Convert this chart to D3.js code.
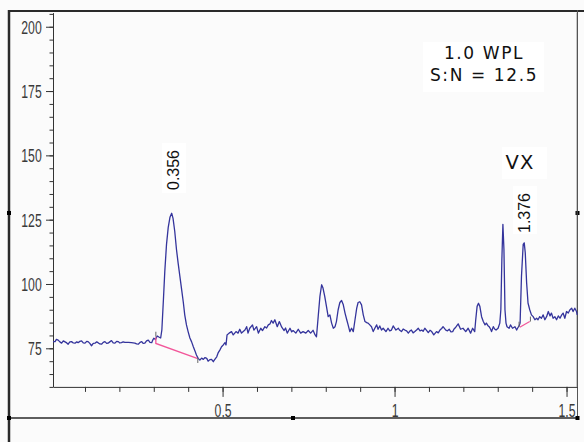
<!DOCTYPE html>
<html>
<head>
<meta charset="utf-8">
<script src="https://cdn.jsdelivr.net/npm/d3@7"></script>
<style>
  html, body { margin: 0; padding: 0; background: #fbfbfb; }
  svg { display: block; }
  .tick-label { font-family: "Liberation Sans", Arial, sans-serif; font-size: 17.5px; fill: #3a3a3a; }
  .note { font-family: "DejaVu Sans", Verdana, sans-serif; fill: #111; }
  .rt { font-family: "Liberation Sans", Arial, sans-serif; font-size: 16px; fill: #111; }
</style>
</head>
<body>
<svg width="584" height="442"></svg>
<script>
// chromatogram trace (retention time in min, detector response)
const retentionTime = [
  0.007, 0.013, 0.017, 0.022, 0.027, 0.032, 0.037, 0.042, 0.047, 0.051,
  0.056, 0.061, 0.066, 0.071, 0.076, 0.080, 0.085, 0.090, 0.095, 0.100,
  0.105, 0.109, 0.114, 0.119, 0.124, 0.129, 0.134, 0.138, 0.143, 0.148,
  0.153, 0.158, 0.163, 0.167, 0.172, 0.177, 0.182, 0.187, 0.192, 0.197,
  0.201, 0.206, 0.211, 0.216, 0.226, 0.235, 0.245, 0.250, 0.255, 0.260,
  0.265, 0.269, 0.274, 0.279, 0.284, 0.289, 0.294, 0.297, 0.300, 0.305,
  0.310, 0.316, 0.320, 0.3235, 0.328, 0.332, 0.337, 0.342, 0.347, 0.352,
  0.356, 0.361, 0.366, 0.371, 0.376, 0.381, 0.386, 0.390, 0.395, 0.400,
  0.405, 0.410, 0.415, 0.420, 0.424, 0.429, 0.434, 0.439, 0.444, 0.449,
  0.454, 0.458, 0.463, 0.468, 0.473, 0.478, 0.483, 0.487, 0.492, 0.497,
  0.502, 0.507, 0.510, 0.513, 0.519, 0.526, 0.531, 0.539, 0.545, 0.550,
  0.555, 0.560, 0.565, 0.570, 0.574, 0.579, 0.587, 0.591, 0.599, 0.604,
  0.611, 0.616, 0.623, 0.628, 0.633, 0.638, 0.642, 0.647, 0.652, 0.659,
  0.665, 0.672, 0.679, 0.683, 0.688, 0.696, 0.701, 0.705, 0.713, 0.720,
  0.727, 0.734, 0.742, 0.749, 0.756, 0.763, 0.769, 0.773, 0.778, 0.783,
  0.788, 0.792, 0.797, 0.802, 0.807, 0.812, 0.817, 0.822, 0.827, 0.831,
  0.836, 0.841, 0.846, 0.851, 0.856, 0.861, 0.865, 0.870, 0.875, 0.880,
  0.885, 0.890, 0.894, 0.899, 0.904, 0.909, 0.914, 0.919, 0.923, 0.928,
  0.933, 0.938, 0.943, 0.948, 0.952, 0.957, 0.962, 0.967, 0.975, 0.981,
  0.986, 0.991, 0.996, 1.004, 1.011, 1.015, 1.020, 1.025, 1.030, 1.035,
  1.040, 1.045, 1.049, 1.054, 1.059, 1.064, 1.069, 1.074, 1.079, 1.083,
  1.088, 1.093, 1.098, 1.103, 1.108, 1.114, 1.122, 1.127, 1.132, 1.137,
  1.141, 1.149, 1.154, 1.159, 1.164, 1.169, 1.173, 1.178, 1.185, 1.192,
  1.199, 1.207, 1.214, 1.221, 1.227, 1.233, 1.236, 1.240, 1.244, 1.248,
  1.253, 1.258, 1.263, 1.267, 1.271, 1.275, 1.279, 1.282, 1.287, 1.291,
  1.295, 1.301, 1.306, 1.309, 1.312, 1.315, 1.318, 1.321, 1.324, 1.327,
  1.333, 1.337, 1.343, 1.350, 1.355, 1.358, 1.362, 1.365, 1.369, 1.374,
  1.377, 1.380, 1.384, 1.388, 1.393, 1.398, 1.403, 1.408, 1.413, 1.417,
  1.422, 1.427, 1.432, 1.437, 1.442, 1.447, 1.452, 1.456, 1.461, 1.466,
  1.471, 1.476, 1.481, 1.486, 1.490, 1.495, 1.500, 1.505, 1.510, 1.515,
  1.519, 1.524, 1.529, 1.531
];
const response = [
  77.6, 77.6, 78.5, 78.2, 77.5, 77.0, 77.9, 77.5, 77.1, 76.6,
  77.5, 77.6, 77.1, 77.0, 77.5, 77.2, 77.7, 77.9, 77.1, 77.0,
  77.7, 77.6, 76.9, 76.0, 76.9, 77.0, 77.5, 77.2, 76.7, 76.6,
  77.3, 77.6, 76.9, 77.0, 77.5, 78.0, 77.1, 77.0, 77.7, 77.6,
  77.1, 77.2, 77.5, 77.3, 77.3, 77.2, 77.0, 76.7, 76.6, 77.3,
  77.6, 76.9, 77.0, 77.9, 78.2, 77.3, 77.2, 78.2, 78.9, 78.4,
  79.8, 79.3, 79.0, 82.2, 93.9, 104.8, 115.4, 122.0, 125.9, 127.5,
  125.5, 120.4, 113.4, 107.9, 102.9, 97.8, 92.7, 88.0, 84.1, 81.4,
  79.0, 77.5, 75.6, 73.9, 72.4, 71.1, 70.4, 71.2, 70.7, 71.4,
  71.1, 70.0, 70.6, 70.7, 69.8, 70.8, 71.7, 73.2, 74.3, 75.6,
  76.3, 77.2, 76.3, 80.2, 80.9, 81.5, 80.2, 81.5, 80.9, 82.4,
  80.9, 81.5, 82.1, 83.4, 80.9, 82.8, 84.1, 82.1, 83.4, 80.9,
  82.8, 81.9, 83.4, 82.9, 84.1, 84.5, 85.8, 84.8, 86.1, 83.4,
  85.4, 83.2, 81.9, 82.9, 80.9, 82.8, 81.4, 81.9, 80.9, 82.4,
  80.9, 81.5, 80.9, 81.9, 80.9, 82.0, 80.2, 79.5, 87.3, 95.2,
  99.7, 98.4, 95.2, 91.3, 87.3, 88.0, 84.8, 82.8, 83.4, 85.4,
  90.0, 92.8, 93.6, 91.9, 88.7, 86.1, 84.1, 81.5, 82.8, 81.5,
  86.1, 90.6, 92.8, 93.1, 91.9, 88.0, 85.4, 85.0, 84.8, 84.1,
  83.4, 81.5, 82.9, 84.1, 82.4, 83.7, 82.1, 82.8, 81.5, 82.8,
  81.8, 82.1, 83.7, 82.1, 82.8, 82.0, 81.5, 82.5, 82.1, 81.8,
  80.9, 81.8, 82.1, 81.0, 81.5, 82.1, 82.8, 81.8, 82.1, 81.6,
  82.8, 82.0, 81.1, 82.0, 81.5, 80.2, 81.5, 81.0, 82.1, 82.7,
  83.4, 82.1, 81.8, 82.4, 81.4, 81.5, 82.5, 83.2, 84.5, 82.4,
  82.8, 81.5, 82.8, 80.9, 82.8, 81.5, 86.1, 91.3, 92.5, 91.3,
  87.3, 85.4, 84.1, 84.8, 83.9, 83.4, 82.5, 81.5, 83.4, 82.5,
  82.1, 82.8, 84.8, 90.0, 109.5, 123.2, 113.4, 90.0, 84.8, 83.4,
  82.8, 84.1, 82.8, 83.4, 82.1, 82.9, 83.7, 84.8, 103.0, 115.4,
  116.0, 112.1, 100.4, 92.6, 90.0, 88.0, 87.3, 86.1, 86.7, 86.1,
  87.3, 86.7, 88.0, 86.1, 87.3, 89.3, 87.6, 88.7, 86.7, 87.3,
  86.1, 87.6, 86.7, 88.0, 88.7, 86.7, 89.3, 88.7, 90.0, 90.6,
  89.3, 90.6, 89.3, 88.0
];

// integrated peaks and their drawn baselines
const peakTimes = [0.356, 1.376];
const peakLabels = ['0.356', '1.376'];
const integrationBaselines = [
  [[0.306, 79.3], [0.306, 76.9], [0.426, 71.1]],
  [[1.364, 83.2], [1.393, 85.4]]
];
const integrationMarks = [[0.306, 79.5], [0.428, 69.3], [1.362, 83.4], [1.395, 85.4]];

const xMinorTicks = d3.range(1, 16).map(i => i / 10);
const xMajorTicks = [0.5, 1, 1.5];
const yMinorTicks = d3.range(60, 206, 5);
const yMajorTicks = [75, 100, 125, 150, 175, 200];
const annotationLines = ['1.0 WPL', 'S:N = 12.5'];
const analyteLabel = 'VX';

const svg = d3.select('svg');
const x = d3.scaleLinear().domain([0.007, 1.531]).range([53, 577.2]);
const y = d3.scaleLinear().domain([60, 205.5]).range([386.9, 12.6]);
const narrow = 0.7;

// frame around the pasted figure
const frame = svg.append('g').attr('stroke', '#2a2a2a').attr('fill', 'none');
frame.append('line').attr('x1', 8).attr('x2', 584).attr('y1', 11).attr('y2', 11).attr('stroke-width', 2);
frame.append('line').attr('x1', 9).attr('x2', 9).attr('y1', 10).attr('y2', 442).attr('stroke-width', 2.5);
frame.append('line').attr('x1', 577.5).attr('x2', 577.5).attr('y1', 10).attr('y2', 418).attr('stroke-width', 1).attr('stroke', '#555');
frame.append('line').attr('x1', 9).attr('x2', 578).attr('y1', 418).attr('y2', 418).attr('stroke-width', 1.5);
[[9, 213], [577.5, 213], [9, 418], [293, 418], [577.5, 418]].forEach(([hx, hy]) => {
  svg.append('rect').attr('x', hx - 2).attr('y', hy - 2).attr('width', 4).attr('height', 4).attr('fill', '#000');
});

// axes
const xAxisG = svg.append('g').attr('transform', `translate(0,${y(60)})`);
xAxisG.call(d3.axisBottom(x).tickValues(xMinorTicks).tickSize(5).tickSizeOuter(0).tickFormat(''));
xAxisG.append('g').call(d3.axisBottom(x).tickValues(xMajorTicks).tickSize(10).tickSizeOuter(0).tickFormat(d3.format('')))
  .call(g => g.select('.domain').remove());

const yAxisG = svg.append('g').attr('transform', `translate(${x.range()[0]},0)`);
yAxisG.call(d3.axisLeft(y).tickValues(yMinorTicks).tickSize(3.5).tickSizeOuter(0).tickFormat(''));
yAxisG.append('g').call(d3.axisLeft(y).tickValues(yMajorTicks).tickSize(7).tickSizeOuter(0))
  .call(g => g.select('.domain').remove());

svg.selectAll('.domain, .tick line').attr('stroke', '#333').attr('stroke-width', 1);
xAxisG.selectAll('.tick text')
  .attr('class', 'tick-label')
  .attr('y', 30).attr('dy', 0)
  .attr('transform', `scale(${narrow},1)`);
yAxisG.selectAll('.tick text')
  .attr('class', 'tick-label')
  .attr('x', -11.3 / narrow).attr('dy', '0.36em')
  .attr('transform', `scale(${narrow},1)`);
svg.selectAll('.tick text').attr('font-family', null).attr('font-size', null).attr('fill', null);

// right edge of the plot
svg.append('line')
  .attr('x1', x.range()[1]).attr('x2', x.range()[1])
  .attr('y1', y.range()[1]).attr('y2', y.range()[0])
  .attr('stroke', '#555');

// label backgrounds
const boxes = svg.append('g').attr('fill', '#fff');
peakTimes.forEach((rt, i) => {
  boxes.append('rect').attr('x', x(rt) - 11).attr('y', i === 0 ? 143 : 186).attr('width', 24).attr('height', i === 0 ? 50 : 48);
});
boxes.append('rect').attr('x', 423).attr('y', 42).attr('width', 121).attr('height', 50);
boxes.append('rect').attr('x', 502).attr('y', 147).attr('width', 45).attr('height', 32);

// trace
const trace = d3.zip(retentionTime, response);
const line = d3.line().x(d => x(d[0])).y(d => y(d[1]));
svg.append('path')
  .datum(trace)
  .attr('d', line)
  .attr('fill', 'none')
  .attr('stroke', '#34349c')
  .attr('stroke-width', 1.3)
  .attr('stroke-linejoin', 'round');

// integration baselines
integrationBaselines.forEach(b => {
  svg.append('path')
    .datum(b)
    .attr('d', line)
    .attr('fill', 'none')
    .attr('stroke', '#f2569a')
    .attr('stroke-width', 1.3);
});
integrationMarks.forEach(([t, v]) => {
  svg.append('line')
    .attr('x1', x(t)).attr('x2', x(t))
    .attr('y1', y(v) - 5).attr('y2', y(v))
    .attr('stroke', '#666').attr('stroke-width', 1);
});

// retention time labels
peakTimes.forEach((rt, i) => {
  svg.append('text')
    .attr('class', 'rt')
    .attr('text-anchor', 'middle')
    .attr('transform', `translate(${x(rt) + 6},${i === 0 ? 170 : 213}) rotate(-90)`)
    .text(peakLabels[i]);
});

// annotations
annotationLines.forEach((t, i) => {
  svg.append('text')
    .attr('class', 'note')
    .attr('x', 484).attr('y', 58.5 + i * 22.7)
    .attr('text-anchor', 'middle')
    .attr('font-size', 17)
    .attr('letter-spacing', 1.6)
    .text(t);
});
svg.append('text')
  .attr('class', 'note')
  .attr('x', 520).attr('y', 168.5)
  .attr('text-anchor', 'middle')
  .attr('font-size', 19.5)
  .attr('letter-spacing', 1.2)
  .text(analyteLabel);
</script>
</body>
</html>
